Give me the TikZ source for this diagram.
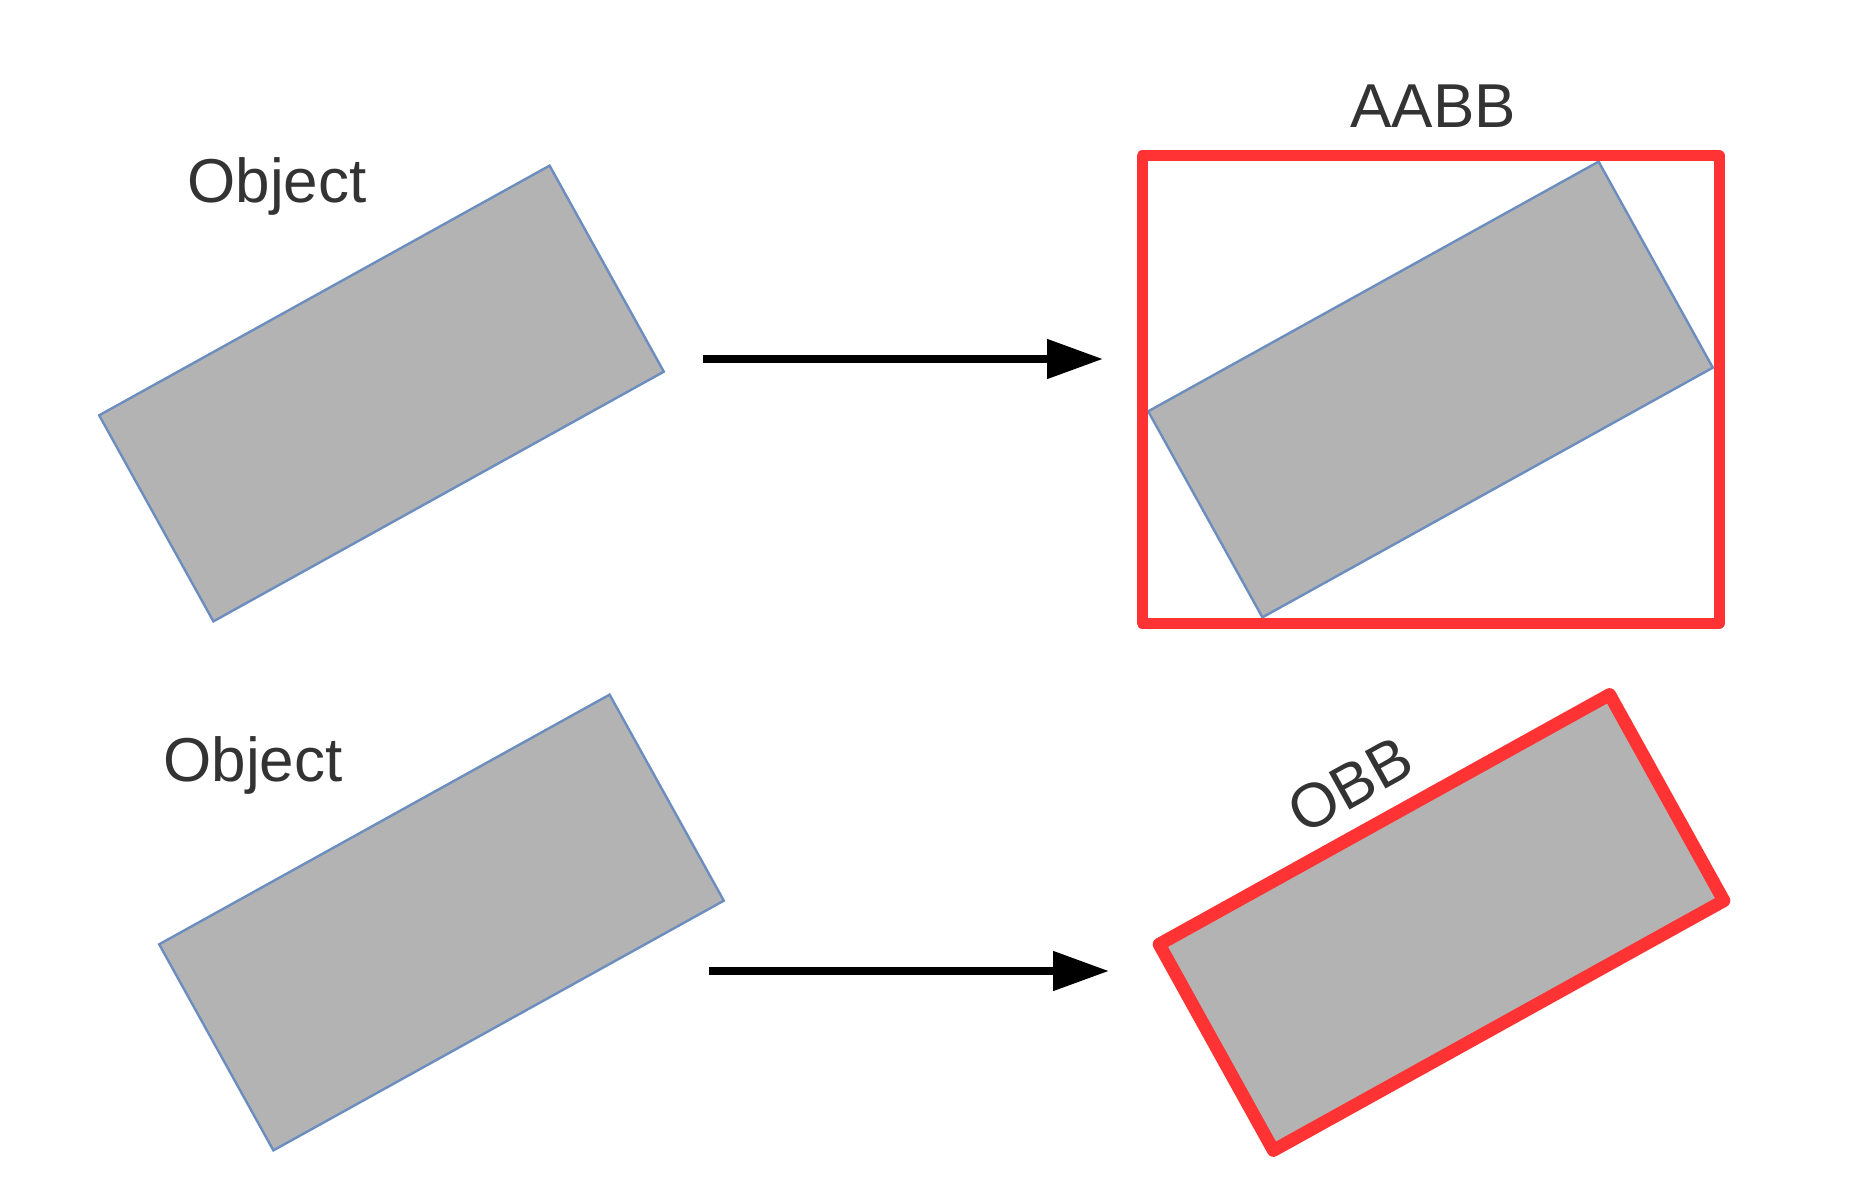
\documentclass[tikz,border=0pt]{standalone}
\usepackage{fontspec}
\setmainfont{Liberation Sans}
\usetikzlibrary{arrows.meta}
\definecolor{objgray}{HTML}{B3B3B3}
\definecolor{objblue}{HTML}{6C8EBF}
\definecolor{bbred}{HTML}{FF3333}
\definecolor{txt}{HTML}{333333}
\begin{document}
\begin{tikzpicture}[x=0.5pt,y=-0.5pt,
  objrect/.style={rectangle, rotate=29, minimum width=257.5pt, minimum height=117.8pt,
    inner sep=0pt, outer sep=0pt, fill=objgray, draw=objblue, line width=1.2pt},
  obbrect/.style={objrect, draw=bbred, line width=6.5pt, line join=round},
  aabbbox/.style={draw=bbred, line width=5.5pt, line join=round},
  lbl/.style={text=txt, font=\fontsize{31}{37}\selectfont, inner sep=0pt},
  conn/.style={line width=4pt, -{Triangle[length=28pt,width=19pt]}}]
\useasboundingbox (0,0) rectangle (1869,1187);
% top row
\node[objrect] (r1) at (381.5,393.5) {};
\node[lbl, anchor=base west] (l1) at (187,203) {Object};
\node[objrect] (r2) at (1430.5,389.5) {};
\draw[aabbbox] (1142,156) rectangle (1719,623);
\node[lbl, anchor=base] (l2) at (1433,128) {AABB};
\coordinate (a1s) at (703,359);
\coordinate (a1e) at (1103,359);
\draw[conn] (a1s) -- (a1e);
% bottom row
\node[objrect] (r3) at (441.5,922.5) {};
\node[lbl, anchor=base west] (l3) at (163,781) {Object};
\node[obbrect] (r4) at (1441.5,922.5) {};
\node[lbl, rotate=29] (l4) at (1350,785) {OBB};
\coordinate (a2s) at (709,971);
\coordinate (a2e) at (1109,971);
\draw[conn] (a2s) -- (a2e);
\end{tikzpicture}
\end{document}
